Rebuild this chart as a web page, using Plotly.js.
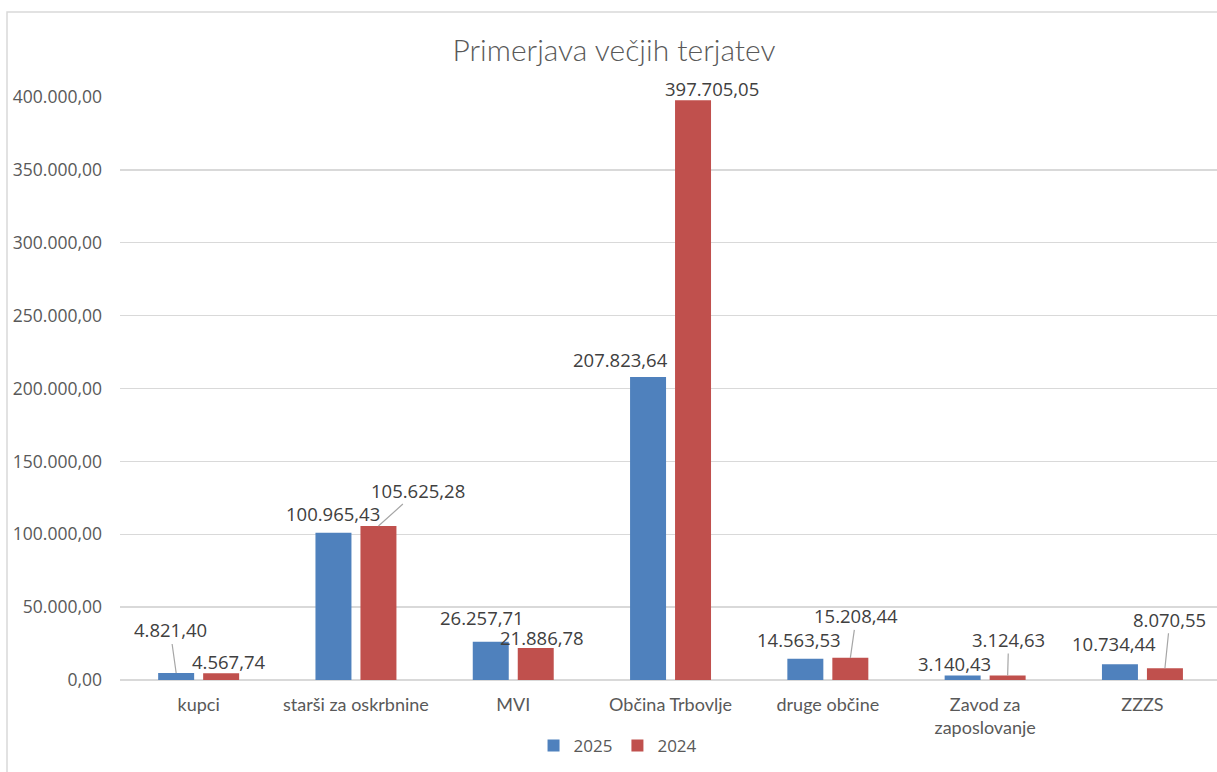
<!DOCTYPE html>
<html>
<head>
<meta charset="utf-8">
<script src="https://cdn.plot.ly/plotly-3.0.1.min.js"></script>
<style>
html,body{margin:0;padding:0;background:#fff;overflow:hidden;}
#chart{width:1217px;height:772px;}
</style>
</head>
<body>
<div id="chart"></div>
<script>
// ---- data ----
const categories = ["kupci", "starši za oskrbnine", "MVI", "Občina Trbovlje", "druge občine", "Zavod za<br>zaposlovanje", "ZZZS"];
const seriesNames = ["2025", "2024"];
const values2025 = [4821.40, 100965.43, 26257.71, 207823.64, 14563.53, 3140.43, 10734.44];
const values2024 = [4567.74, 105625.28, 21886.78, 397705.05, 15208.44, 3124.63, 8070.55];
const yTickValues = [0, 50000, 100000, 150000, 200000, 250000, 300000, 350000, 400000];

// ---- label placement (pixel offsets of label centre from bar top) and leader lines ----
const offs2025 = [[-6,-43],[0,-19],[-9,-24],[-28,-18],[-6,-19],[-8,-12],[-6,-21]];
const offs2024 = [[8,-12],[40,-36],[6,-11],[19,-12],[6,-42],[1,-36],[5,-49]];
const lead2025 = [true,false,false,false,false,false,false];
const lead2024 = [false,true,false,false,true,true,true];

const colors = ["#4F81BD", "#C0504D"];
const bargap = 0.428, bargroupgap = 0.2;

function fmt(v){
  const s = v.toFixed(2).split(".");
  const ip = s[0].replace(/\B(?=(\d{3})+(?!\d))/g, ".");
  return ip + "," + s[1];
}

const traces = [values2025, values2024].map((vals, k) => ({
  type: "bar",
  name: seriesNames[k],
  x: categories,
  y: vals,
  marker: {color: colors[k]},
  hoverinfo: "skip"
}));

const annotations = [];
const half = (1 - bargap) / 4;
[[values2025, offs2025, lead2025, -1], [values2024, offs2024, lead2024, 1]].forEach(([vals, offs, lead, side]) => {
  vals.forEach((v, i) => {
    annotations.push({
      xref: "x", yref: "y",
      x: i + side * half, y: v,
      text: fmt(v),
      showarrow: true,
      arrowhead: 0,
      arrowwidth: 1.2,
      arrowcolor: lead[i] ? "#a6a6a6" : "rgba(0,0,0,0)",
      ax: offs[i][0], ay: offs[i][1],
      axref: "pixel", ayref: "pixel",
      standoff: 0,
      font: {family: "Open Sans, sans-serif", size: 18.5, color: "#404040"}
    });
  });
});

const layout = {
  width: 1217, height: 772,
  margin: {l: 120, r: 0, t: 97, b: 92},
  paper_bgcolor: "#ffffff",
  plot_bgcolor: "#ffffff",
  separators: ",.",
  title: {
    text: "Primerjava večjih terjatev",
    font: {family: "Lato, sans-serif", size: 30, weight: 300, color: "#595959"},
    x: 0.5045, xanchor: "center",
    y: 0.935, yanchor: "middle"
  },
  barmode: "group",
  bargap: bargap,
  bargroupgap: bargroupgap,
  showlegend: true,
  legend: {
    orientation: "h",
    x: 0.454, xanchor: "center",
    y: -0.113, yanchor: "middle",
    font: {family: "Open Sans, sans-serif", size: 17, color: "#595959"},
    itemwidth: 30,
    traceorder: "normal"
  },
  xaxis: {
    type: "category",
    range: [-0.5, 6.474],
    showgrid: false,
    showline: false,
    ticks: "",
    tickfont: {family: "Lato, sans-serif", size: 18, color: "#595959"},
    ticklabelstandoff: 12,
    fixedrange: true
  },
  yaxis: {
    range: [0, 400000],
    tickvals: yTickValues,
    tickformat: ",.2f",
    showgrid: true,
    gridcolor: "#d9d9d9",
    gridwidth: 1.3,
    zeroline: true,
    zerolinecolor: "#d9d9d9",
    zerolinewidth: 1.3,
    showline: false,
    ticks: "",
    ticklabelstandoff: 17,
    tickfont: {family: "Open Sans, sans-serif", size: 17.5, color: "#595959"},
    fixedrange: true
  },
  annotations: annotations,
  shapes: [{
    type: "rect", xref: "paper", yref: "paper",
    x0: -0.103, x1: 1.02, y0: -0.2, y1: 1.146,
    line: {color: "#d9d9d9", width: 1.5},
    fillcolor: "rgba(0,0,0,0)",
    layer: "below"
  }]
};

Plotly.newPlot("chart", traces, layout, {displayModeBar: false, staticPlot: true});
</script>
</body>
</html>
